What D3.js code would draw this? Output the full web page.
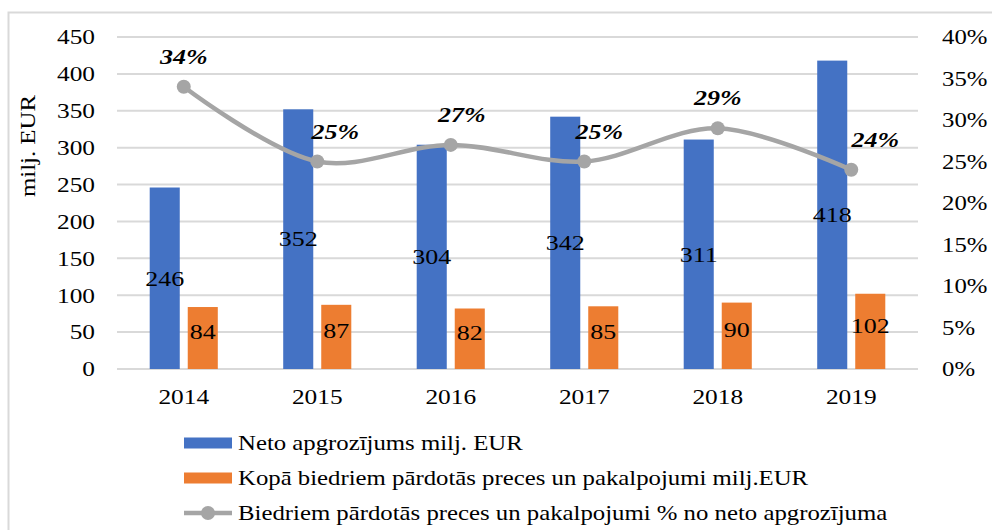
<!DOCTYPE html>
<html>
<head>
<meta charset="utf-8">
<script src="https://cdn.jsdelivr.net/npm/d3@7"></script>
<style>
  body { margin: 0; background: #fff; }
  text { font-family: "Liberation Serif", "Times New Roman", serif; fill: #000; }
</style>
</head>
<body>
<div id="chart"></div>
<script>
// Data
var years = ["2014", "2015", "2016", "2017", "2018", "2019"];
var netTurnover = [246, 352, 304, 342, 311, 418];
var soldToMembers = [84, 87, 82, 85, 90, 102];
var sharePct = [34, 25, 27, 25, 29, 24];
var leftTicks = [0, 50, 100, 150, 200, 250, 300, 350, 400, 450];
var rightTicks = [0, 5, 10, 15, 20, 25, 30, 35, 40];
var legendLabels = [
  "Neto apgrozījums milj. EUR",
  "Kopā biedriem pārdotās preces un pakalpojumi milj.EUR",
  "Biedriem pārdotās preces un pakalpojumi % no neto apgrozījuma"
];

// Chart area
var svgWidth = 992;
var svgHeight = 530;
var plot = { left: 117, right: 918, top: 37, bottom: 369 };

var blue = "#4472C4";
var orange = "#ED7D31";
var grey = "#A5A5A5";
var grid = "#D9D9D9";

// the source picture is stretched sideways, so all text is widened a bit
var sx = 1.18;
function stretch(sel) {
  sel.each(function() {
    var t = d3.select(this);
    var x = +t.attr("x") || 0;
    var y = +t.attr("y") || 0;
    t.attr("x", 0).attr("y", 0)
      .attr("transform", `translate(${x},${y}) scale(${sx},1)`);
  });
}

var svg = d3.select("#chart")
  .append("svg")
  .attr("width", svgWidth)
  .attr("height", svgHeight);

// Outer frame (runs off the right and bottom edges)
svg.append("rect")
  .attr("x", 8.5)
  .attr("y", 12.5)
  .attr("width", 1000)
  .attr("height", 600)
  .attr("fill", "none")
  .attr("stroke", grid)
  .attr("stroke-width", 2);

// Scales
var x0 = d3.scaleBand()
  .domain(years)
  .range([plot.left, plot.right])
  .paddingInner(0.49)
  .paddingOuter(0.245);

var x1 = d3.scaleBand()
  .domain(["net", "members"])
  .range([0, x0.bandwidth()])
  .paddingInner(0.21);

var yLeft = d3.scaleLinear()
  .domain([0, 450])
  .range([plot.bottom, plot.top]);

var yRight = d3.scaleLinear()
  .domain([0, 40])
  .range([plot.bottom, plot.top]);

var xCenter = d => x0(d) + x0.bandwidth() / 2;

// Gridlines
svg.append("g")
  .selectAll("line")
  .data(leftTicks)
  .enter()
  .append("line")
  .attr("x1", plot.left)
  .attr("x2", plot.right)
  .attr("y1", d => yLeft(d))
  .attr("y2", d => yLeft(d))
  .attr("stroke", grid)
  .attr("stroke-width", 2);

// Left axis
var leftAxis = d3.axisLeft(yLeft).tickValues(leftTicks).tickSize(0).tickPadding(0);
var gLeft = svg.append("g")
  .attr("transform", "translate(95,0)")
  .call(leftAxis);
gLeft.select(".domain").remove();
gLeft.selectAll("text")
  .attr("font-size", "21.5px")
  .attr("fill", "#000")
  .call(stretch);

// Right axis
var rightAxis = d3.axisRight(yRight).tickValues(rightTicks).tickSize(0).tickPadding(0)
  .tickFormat(d => d + "%");
var gRight = svg.append("g")
  .attr("transform", "translate(942,0)")
  .call(rightAxis);
gRight.select(".domain").remove();
gRight.selectAll("text")
  .attr("font-size", "21px")
  .attr("fill", "#000")
  .call(stretch);

// Bottom axis
var bottomAxis = d3.axisBottom(x0).tickSize(0).tickPadding(0);
var gBottom = svg.append("g")
  .attr("transform", `translate(0, ${plot.bottom + 20})`)
  .call(bottomAxis);
gBottom.select(".domain").remove();
gBottom.selectAll("text")
  .attr("font-size", "21.5px")
  .attr("fill", "#000")
  .call(stretch);

// Y-axis title
svg.append("text")
  .attr("transform", `translate(35,146) rotate(-90) scale(${sx},1)`)
  .attr("text-anchor", "middle")
  .attr("font-size", "21px")
  .text("milj. EUR");

// Bars
var barData = years.map((y, i) => ({ year: y, net: netTurnover[i], members: soldToMembers[i] }));

svg.append("g")
  .selectAll("rect")
  .data(barData)
  .enter()
  .append("rect")
  .attr("x", d => x0(d.year) + x1("net"))
  .attr("y", d => yLeft(d.net))
  .attr("width", x1.bandwidth())
  .attr("height", d => plot.bottom - yLeft(d.net))
  .attr("fill", blue);

svg.append("g")
  .selectAll("rect")
  .data(barData)
  .enter()
  .append("rect")
  .attr("x", d => x0(d.year) + x1("members"))
  .attr("y", d => yLeft(d.members))
  .attr("width", x1.bandwidth())
  .attr("height", d => plot.bottom - yLeft(d.members))
  .attr("fill", orange);

// Bar value labels (centred in the bar)
svg.append("g")
  .selectAll("text")
  .data(barData)
  .enter()
  .append("text")
  .attr("x", d => x0(d.year) + x1("net") + x1.bandwidth() / 2)
  .attr("y", d => yLeft(d.net / 2))
  .attr("text-anchor", "middle")
  .attr("dominant-baseline", "central")
  .attr("font-size", "22px")
  .text(d => d.net)
  .call(stretch);

svg.append("g")
  .selectAll("text")
  .data(barData)
  .enter()
  .append("text")
  .attr("x", d => x0(d.year) + x1("members") + x1.bandwidth() / 2)
  .attr("y", d => yLeft(d.members / 2) - 6)
  .attr("text-anchor", "middle")
  .attr("dominant-baseline", "central")
  .attr("font-size", "22px")
  .text(d => d.members)
  .call(stretch);

// Share line (smoothed)
var lineData = years.map((y, i) => ({ year: y, v: sharePct[i] }));

var line = d3.line()
  .x(d => xCenter(d.year))
  .y(d => yRight(d.v))
  .curve(d3.curveCatmullRom.alpha(0.5));

svg.append("path")
  .datum(lineData)
  .attr("d", line)
  .attr("fill", "none")
  .attr("stroke", grey)
  .attr("stroke-width", 4.5)
  .attr("stroke-linecap", "round");

svg.append("g")
  .selectAll("circle")
  .data(lineData)
  .enter()
  .append("circle")
  .attr("cx", d => xCenter(d.year))
  .attr("cy", d => yRight(d.v))
  .attr("r", 7)
  .attr("fill", grey);

// Percentage labels, nudged sideways like in the original
var labelShift = [0, 18, 11, 15, 0, 24];
svg.append("g")
  .selectAll("text")
  .data(lineData)
  .enter()
  .append("text")
  .attr("x", (d, i) => xCenter(d.year) + labelShift[i])
  .attr("y", d => yRight(d.v) - 23)
  .attr("text-anchor", "middle")
  .attr("font-size", "22px")
  .attr("font-weight", "bold")
  .attr("font-style", "italic")
  .text(d => d.v + "%")
  .call(stretch);

// Legend
var legend = svg.append("g").attr("transform", "translate(184,443)");
var rowH = 35;

legend.append("rect")
  .attr("x", 0).attr("y", -5.5)
  .attr("width", 48).attr("height", 11)
  .attr("fill", blue);

legend.append("rect")
  .attr("x", 0).attr("y", rowH - 5.5)
  .attr("width", 48).attr("height", 11)
  .attr("fill", orange);

legend.append("line")
  .attr("x1", 0).attr("x2", 48)
  .attr("y1", rowH * 2).attr("y2", rowH * 2)
  .attr("stroke", grey)
  .attr("stroke-width", 4.5);

legend.append("circle")
  .attr("cx", 24).attr("cy", rowH * 2)
  .attr("r", 7)
  .attr("fill", grey);

legend.selectAll(".legend-text")
  .data(legendLabels)
  .enter()
  .append("text")
  .attr("class", "legend-text")
  .attr("x", 54)
  .attr("y", (d, i) => i * rowH)
  .attr("dominant-baseline", "central")
  .attr("font-size", "21px")
  .text(d => d)
  .call(stretch);
</script>
</body>
</html>
